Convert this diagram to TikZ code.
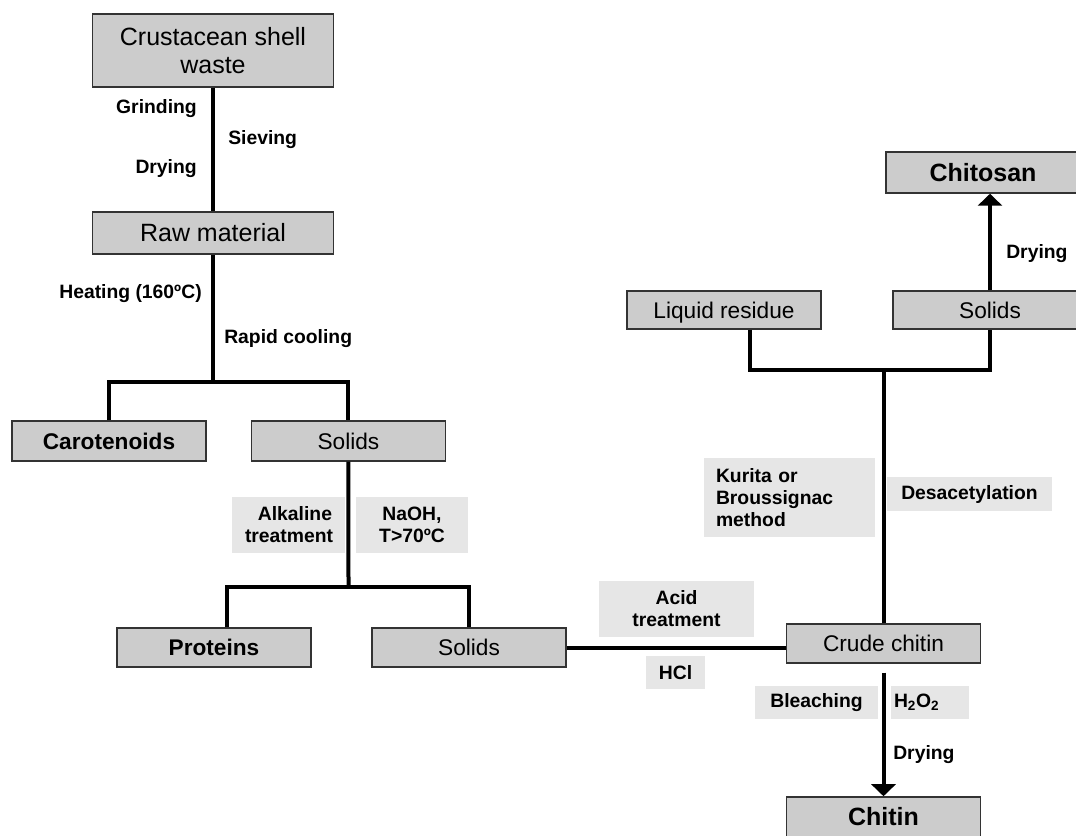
\documentclass[tikz,border=0pt]{standalone}
\usepackage{fontspec}
\setmainfont{Liberation Sans}
\usetikzlibrary{positioning,arrows.meta}

\definecolor{boxgray}{HTML}{CCCCCC}
\definecolor{notegray}{HTML}{E6E6E6}
\definecolor{edgegray}{HTML}{333333}

\newcommand{\boxfont}{\fontsize{17}{20}\selectfont}
\newcommand{\bigfont}{\fontsize{18.75}{21}\selectfont}
\newcommand{\notefont}{\fontsize{14.5}{16.5}\selectfont\bfseries}

\begin{document}
\begin{tikzpicture}[x=0.75pt, y=-0.75pt, on grid,
    base/.style={draw=edgegray, fill=boxgray, line width=1.1pt, inner sep=0pt, minimum width=145.5pt, minimum height=29.25pt},
    stage/.style={base, text height=12.2pt, text depth=0pt, font=\boxfont},
    bigstage/.style={stage, text height=13.4pt, font=\bigfont},
    product/.style={stage, font=\boxfont\bfseries},
    bigproduct/.style={bigstage, font=\bigfont\bfseries},
    note/.style={fill=notegray, inner sep=0pt, font=\notefont, align=center},
    cond/.style={font=\notefont, inner sep=0pt, text height=10.4pt, text depth=0pt},
    flow/.style={line width=3pt},
    flowarrow/.style={flow, -{Triangle[width=18pt,length=9pt]}}]
  \useasboundingbox (0,0) rectangle (1076,836);

  % boxes
  \node[base, minimum width=180.75pt, minimum height=54.75pt, align=center, font=\bigfont] (crust) at (213,50.5) {Crustacean shell\\waste};
  \node[bigstage, minimum width=180.75pt, minimum height=31.5pt] (raw) [below=136.9pt of crust] {Raw material};
  \node[product, minimum height=30pt] (carot) at (109,441) {Carotenoids};
  \node[stage, minimum height=30pt] (solidsA) [right=179.6pt of carot] {Solids};
  \node[product] (prot) at (214,647.5) {Proteins};
  \node[stage] (solidsB) [right=191.25pt of prot] {Solids};
  \node[stage] (crude) at (883.5,643.5) {Crude chitin};
  \node[bigproduct, minimum height=30pt] (chitin) [below=130.1pt of crude] {Chitin};
  \node[stage, minimum height=28.5pt] (liquid) at (724,310) {Liquid residue};
  \node[stage, minimum height=28.5pt] (solidsC) [right=199.5pt of liquid] {Solids};
  \node[bigproduct, minimum height=30.75pt] (chitosan) at (983,172.5) {Chitosan};

  % forks
  \coordinate (fork1) at (213,382);
  \coordinate (fork2) at (348.5,587);
  \coordinate (fork3) at (883.5,370);

  % connectors
  \draw[flow] (crust) -- (raw);
  \draw[flow] (raw) -- (fork1);
  \draw[flow] (carot) |- (fork1) -| (solidsA);
  \draw[flow] (solidsA) -- (fork2);
  \draw[flow] ([xshift=9.75pt]prot.north) |- (fork2) -| (solidsB);
  \draw[flow] (solidsB.east) -- (solidsB.east -| crude.west);
  \draw[flow] (crude) -- (fork3);
  \draw[flow] ([xshift=19.5pt]liquid.south) |- (fork3) -| (solidsC);
  \draw[flowarrow] (solidsC) -- (solidsC |- chitosan.south);
  \draw[flowarrow] ([yshift=-6.75pt]crude.south) -- (chitin);

  % plain labels
  \node[cond, anchor=east] (grind) at (197,107) {Grinding};
  \node[cond, anchor=west] (sieve) at (228,138) {Sieving};
  \node[cond, anchor=east] (dryA) at (197,167) {Drying};
  \node[cond, anchor=east] (heat) at (202,292) {Heating (160ºC)};
  \node[cond, anchor=west] (cool) at (224,337) {Rapid cooling};
  \node[cond, anchor=west] (dryB) at (1006,252) {Drying};
  \node[cond, anchor=west] (dryC) at (893,753) {Drying};

  % shaded labels
  \node[note, minimum width=84.75pt, minimum height=42pt, text width=65.25pt, align=right] (alk) at (288.5,525) {Alkaline\\treatment};
  \node[note, minimum width=84pt, minimum height=42pt] (naoh) at (412,525) {NaOH,\\T>70ºC};
  \node[note, minimum width=116.25pt, minimum height=42pt] (acid) at (676.5,609) {Acid\\treatment};
  \node[note, minimum width=44.25pt, minimum height=24.75pt] (hcl) at (675.5,672.5) {HCl};
  \node[note, minimum width=92.25pt, minimum height=24.75pt] (bleach) at (816.5,702.5) {Bleaching};
  \node[note, minimum width=58.5pt, minimum height=24.75pt, text width=54pt, align=left] (perox) at (930,702.5) {H\textsubscript{2}O\textsubscript{2}};
  \node[note, minimum width=128.25pt, minimum height=59.25pt, text width=110.25pt, align=left] (kurita) at (789.5,497.5) {Kurita or\\Broussignac\\method};
  \node[note, minimum width=123.75pt, minimum height=25.5pt] (desac) at (969.5,494) {Desacetylation};
\end{tikzpicture}
\end{document}
